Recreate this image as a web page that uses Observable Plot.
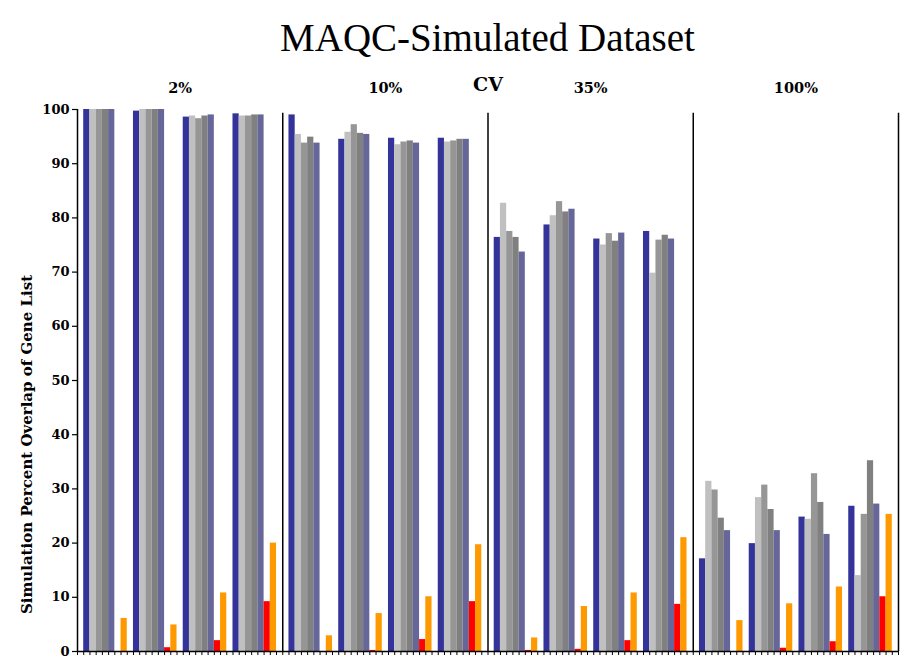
<!DOCTYPE html>
<html>
<head>
<meta charset="utf-8">
<script src="https://cdn.jsdelivr.net/npm/d3@7"></script>
<script src="https://cdn.jsdelivr.net/npm/@observablehq/plot@0.6"></script>
<style>
  html, body { margin: 0; padding: 0; background: #fff; }
  #title {
    font-family: "Liberation Serif", "Times New Roman", serif;
    font-size: 39px; line-height: 39px; height: 42px; padding-top: 18px;
    margin-left: 77px; margin-right: 21px; text-align: center; color: #000;
  }
</style>
</head>
<body>
<div id="title">MAQC-Simulated Dataset</div>
<div id="chart"></div>
<script>
// CV panels, 4 groups each, 7 series per group
const panels = ["2%", "10%", "35%", "100%"];
const seriesNames = ["blue", "lightGray", "gray", "darkGray", "slate", "red", "orange"];
const seriesColors = ["#333399", "#C0C0C0", "#969696", "#808080", "#666699", "#FF0000", "#FF9900"];

// values listed panel by panel (2%, 10%, 35%, 100%), 4 groups each
const blue      = [100, 99.7, 98.6, 99.2,  99.0, 94.5, 94.7, 94.7,  76.4, 78.7, 76.1, 77.5,  17.1, 19.9, 24.8, 26.8];
const lightGray = [100, 100, 98.8, 98.8,   95.4, 95.8, 93.5, 94.0,  82.7, 80.4, 75.0, 69.8,  31.4, 28.4, 24.4, 14.0];
const gray      = [100, 100, 98.3, 98.8,   93.8, 97.2, 94.0, 94.2,  77.5, 83.0, 77.1, 75.9,  29.8, 30.7, 32.8, 25.3];
const darkGray  = [100, 100, 98.8, 99.0,   94.9, 95.6, 94.2, 94.5,  76.4, 81.1, 75.7, 76.8,  24.6, 26.2, 27.5, 35.2];
const slate     = [100, 100, 99.0, 99.0,   93.8, 95.4, 93.8, 94.5,  73.7, 81.6, 77.2, 76.1,  22.3, 22.3, 21.6, 27.2];
const red       = [0, 0.7, 2.0, 9.2,       0, 0.2, 2.2, 9.2,        0.2, 0.4, 2.0, 8.7,      0, 0.6, 1.8, 10.1];
const orange    = [6.1, 4.9, 10.8, 20.0,   2.9, 7.0, 10.1, 19.7,    2.5, 8.3, 10.8, 21.0,    5.7, 8.8, 11.9, 25.3];

const yTicks = [0, 10, 20, 30, 40, 50, 60, 70, 80, 90, 100];
const yLabel = "Simulation Percent Overlap of Gene List";
const axisTitle = "CV";

const seriesValues = [blue, lightGray, gray, darkGray, slate, red, orange];
const groupsPerPanel = 4;
const slotsPerGroup = 8;                       // 1 blank + 7 bars
const slotsPerPanel = groupsPerPanel * slotsPerGroup + 1;
const totalSlots = slotsPerPanel * panels.length;

const rows = [];
panels.forEach((p, pi) => {
  for (let g = 0; g < groupsPerPanel; g++) {
    seriesNames.forEach((s, si) => {
      const slot = pi * slotsPerPanel + g * slotsPerGroup + 1 + si;
      rows.push({panel: p, group: g, series: s, slot, value: seriesValues[si][pi * groupsPerPanel + g]});
    });
  }
});

const panelLabels = panels.map((p, i) => ({label: p, x: i * slotsPerPanel + slotsPerPanel / 2}));
const dividers = panels.map((p, i) => (i + 1) * slotsPerPanel);

const chart = Plot.plot({
  width: 919,
  height: 610,
  marginLeft: 77,
  marginRight: 21,
  marginTop: 49,
  marginBottom: 19,
  style: {fontFamily: '"DejaVu Serif", serif', fontWeight: "bold", fontSize: "13px", color: "#000", background: "#fff"},
  x: {domain: [0, totalSlots]},
  y: {domain: [0, 100]},
  color: {domain: seriesNames, range: seriesColors},
  marks: [
    Plot.rectY(rows, {x1: "slot", x2: d => d.slot + 1, y: "value", fill: "series", inset: 0}),
    Plot.ruleX(dividers, {y1: 0, y2: 99.3, stroke: "#000", strokeWidth: 1.5}),
    Plot.ruleX([0], {y1: 0, y2: 100, stroke: "#000", strokeWidth: 1.5}),
    Plot.ruleY([0], {stroke: "#000", strokeWidth: 1.5}),
    Plot.axisY({ticks: yTicks, tickSize: 5, tickPadding: 3, label: null, strokeWidth: 1.2}),
    Plot.axisX({ticks: d3.range(0, totalSlots + 1), tickSize: 4, tickFormat: () => "", label: null}),
    Plot.text(panelLabels, {x: "x", y: 100, text: "label", dy: -21, fontSize: 14.5, fontWeight: "bold"}),
    Plot.text([axisTitle], {x: slotsPerPanel * 2, y: 100, text: d => d, dy: -25, fontSize: 19, fontWeight: "bold"}),
    Plot.text([yLabel], {frameAnchor: "left", textAnchor: "middle", text: d => d, rotate: -90, dx: -50, dy: 64, fontSize: 15, fontWeight: "bold"})
  ]
});
document.getElementById("chart").appendChild(chart);
</script>
</body>
</html>
